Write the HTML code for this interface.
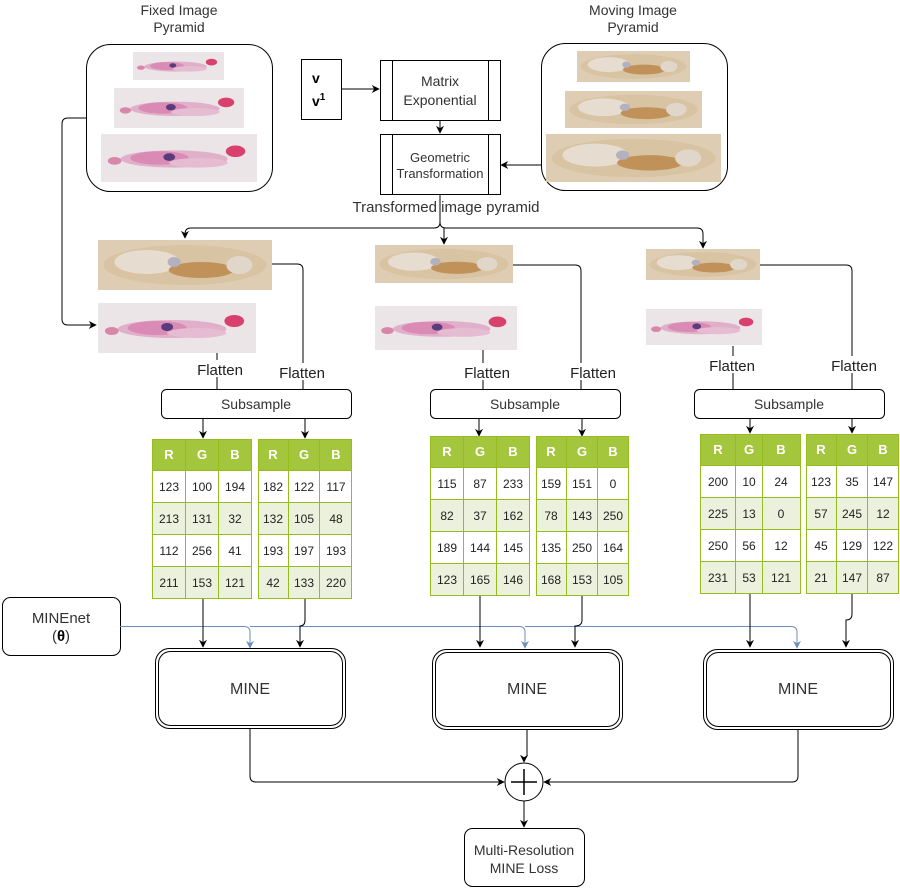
<!DOCTYPE html>
<html><head><meta charset="utf-8"><style>
html,body{margin:0;padding:0;background:#fff;}
svg{display:block;font-family:"Liberation Sans",Arial,sans-serif;}
</style></head><body>
<svg width="900" height="889" viewBox="0 0 900 889" xmlns="http://www.w3.org/2000/svg">
<defs>
<marker id="ar" viewBox="0 0 10 10" refX="9" refY="5" markerWidth="8" markerHeight="8" orient="auto" markerUnits="userSpaceOnUse"><path d="M0,0 L10,5 L0,10 L3,5 z" fill="#000"/></marker>
<marker id="ab" viewBox="0 0 10 10" refX="9" refY="5" markerWidth="8" markerHeight="8" orient="auto" markerUnits="userSpaceOnUse"><path d="M0,0 L10,5 L0,10 L3,5 z" fill="#6c8ebf"/></marker>
<symbol id="fx" viewBox="0 0 160 50" preserveAspectRatio="none">
<rect width="160" height="50" fill="#ece5e8"/>
<ellipse cx="75" cy="26" rx="55" ry="9" fill="#e0b0ca"/>
<ellipse cx="60" cy="25" rx="30" ry="7" fill="#d98ab5"/>
<ellipse cx="100" cy="30" rx="30" ry="5" fill="#e5bcd2"/>
<ellipse cx="14" cy="28" rx="7" ry="4" fill="#d887ab"/>
<ellipse cx="70" cy="24" rx="6" ry="4" fill="#5a3b7c"/>
<ellipse cx="138" cy="18" rx="10" ry="6" fill="#d8406e"/>
</symbol>
<symbol id="mv" viewBox="0 0 160 50" preserveAspectRatio="none">
<rect width="160" height="50" fill="#dfcdb3"/>
<ellipse cx="80" cy="25" rx="75" ry="20" fill="#d8c3a3"/>
<ellipse cx="45" cy="22" rx="30" ry="12" fill="#e6dccf"/>
<ellipse cx="95" cy="30" rx="30" ry="8" fill="#c0925a"/>
<ellipse cx="130" cy="25" rx="12" ry="9" fill="#e0d6c9"/>
<ellipse cx="70" cy="22" rx="6" ry="5" fill="#b3b0c0"/>
</symbol>
</defs>
<g font-size="14" fill="#333" text-anchor="middle">
<text x="179" y="15">Fixed Image</text><text x="179" y="32">Pyramid</text>
<text x="633" y="15">Moving Image</text><text x="633" y="32">Pyramid</text>
</g>
<rect x="86.5" y="44.5" width="186" height="147" rx="24" fill="#fff" stroke="#000"/>
<use href="#fx" x="133" y="52" width="91" height="28"/>
<use href="#fx" x="114" y="88" width="130" height="40"/>
<use href="#fx" x="101" y="134" width="156" height="48"/>
<rect x="541.5" y="43.5" width="186" height="147" rx="24" fill="#fff" stroke="#000"/>
<use href="#mv" x="577" y="51" width="113" height="31"/>
<use href="#mv" x="565" y="91" width="137" height="37"/>
<use href="#mv" x="546" y="134" width="175" height="48"/>
<rect x="301.5" y="59.5" width="40" height="60" fill="#fff" stroke="#000"/>
<text x="312" y="83" font-size="14" font-weight="bold">v</text>
<text x="312" y="106" font-size="14" font-weight="bold">v<tspan font-size="10" dy="-6">1</tspan></text>
<line x1="341" y1="89" x2="379" y2="89" stroke="#000" marker-end="url(#ar)"/>
<rect x="380.5" y="60.5" width="120" height="60" fill="#fff" stroke="#000"/>
<line x1="392.5" y1="60" x2="392.5" y2="121" stroke="#000"/><line x1="488.5" y1="60" x2="488.5" y2="121" stroke="#000"/>
<text x="440" y="86" font-size="14" fill="#333" text-anchor="middle">Matrix</text>
<text x="440" y="105" font-size="14" fill="#333" text-anchor="middle">Exponential</text>
<line x1="440" y1="121" x2="440" y2="133" stroke="#000" marker-end="url(#ar)"/>
<rect x="380.5" y="134.5" width="120" height="60" fill="#fff" stroke="#000"/>
<line x1="392.5" y1="134" x2="392.5" y2="195" stroke="#000"/><line x1="488.5" y1="134" x2="488.5" y2="195" stroke="#000"/>
<text x="440" y="162" font-size="13" fill="#333" text-anchor="middle">Geometric</text>
<text x="440" y="178" font-size="13" fill="#333" text-anchor="middle">Transformation</text>
<line x1="541" y1="165" x2="501" y2="165" stroke="#000" marker-end="url(#ar)"/>
<text x="446" y="212" font-size="15" fill="#333" text-anchor="middle">Transformed image pyramid</text>
<g fill="none" stroke="#000">
<path d="M440,195 V222 Q440,228 434,228 H191 Q185,228 185,234 V238" marker-end="url(#ar)"/>
<path d="M440,222 Q440,228 446,228 H697 Q703,228 703,234 V248" marker-end="url(#ar)"/>
<path d="M444,228 V244" marker-end="url(#ar)"/>
<path d="M86,118 H68 Q62,118 62,124 V319 Q62,325 68,325 H96" marker-end="url(#ar)"/>
</g>
<use href="#mv" x="98" y="240" width="174" height="50"/>
<use href="#fx" x="98" y="303" width="158" height="50"/>
<use href="#mv" x="375" y="245" width="138" height="38"/>
<use href="#fx" x="375" y="306" width="142" height="44"/>
<use href="#mv" x="646" y="249" width="114" height="31"/>
<use href="#fx" x="646" y="309" width="116" height="36"/>
<g fill="none" stroke="#000">
<path d="M272,264 H297 Q303,264 303,270 V389"/>
<path d="M217,353 V389"/>
<path d="M513,265 H575 Q581,265 581,271 V389"/>
<path d="M483,350 V389"/>
<path d="M760,265 H846 Q852,265 852,271 V389"/>
<path d="M733,346 V389"/>
</g>
<g font-size="15" fill="#222" text-anchor="middle">
<rect x="196" y="360" width="48" height="17" fill="#fff"/><text x="220" y="375">Flatten</text>
<rect x="278" y="363" width="50" height="17" fill="#fff"/><text x="302" y="378">Flatten</text>
<rect x="462" y="363" width="50" height="17" fill="#fff"/><text x="487" y="378">Flatten</text>
<rect x="568" y="363" width="50" height="17" fill="#fff"/><text x="593" y="378">Flatten</text>
<rect x="707" y="356" width="50" height="17" fill="#fff"/><text x="732" y="371">Flatten</text>
<rect x="829" y="356" width="50" height="17" fill="#fff"/><text x="854" y="371">Flatten</text>
</g>
<g fill="#fff" stroke="#000">
<rect x="161.5" y="389.5" width="190" height="29" rx="5"/>
<rect x="430.5" y="389.5" width="190" height="29" rx="5"/>
<rect x="694.5" y="389.5" width="190" height="29" rx="5"/>
</g>
<g font-size="14" fill="#333" text-anchor="middle">
<text x="256" y="409">Subsample</text><text x="525" y="409">Subsample</text><text x="789" y="409">Subsample</text>
</g>
<g stroke="#000" marker-end="url(#ar)">
<line x1="203" y1="419" x2="203" y2="438"/><line x1="305" y1="419" x2="305" y2="438"/>
<line x1="479" y1="419" x2="479" y2="436"/><line x1="582" y1="419" x2="582" y2="436"/>
<line x1="750" y1="419" x2="750" y2="433"/><line x1="852" y1="419" x2="852" y2="433"/>
</g>
<g font-size="12" text-anchor="middle" fill="#222">
<g transform="translate(152,439)">
<rect x="0.5" y="0.5" width="99" height="31" fill="#a4c63c" stroke="#94bd1e"/>
<rect x="0.5" y="31.5" width="99" height="32" fill="#fff" stroke="#94bd1e"/>
<rect x="0.5" y="63.5" width="99" height="32" fill="#ebf1dc" stroke="#94bd1e"/>
<rect x="0.5" y="95.5" width="99" height="32" fill="#fff" stroke="#94bd1e"/>
<rect x="0.5" y="127.5" width="99" height="32" fill="#ebf1dc" stroke="#94bd1e"/>
<line x1="33.5" y1="0" x2="33.5" y2="160" stroke="#94bd1e"/><line x1="66.5" y1="0" x2="66.5" y2="160" stroke="#94bd1e"/>
<g fill="#fff" font-weight="bold" font-size="13"><text x="17" y="20">R</text><text x="50" y="20">G</text><text x="83" y="20">B</text></g>
<text x="17" y="52">123</text><text x="50" y="52">100</text><text x="83" y="52">194</text>
<text x="17" y="84">213</text><text x="50" y="84">131</text><text x="83" y="84">32</text>
<text x="17" y="116">112</text><text x="50" y="116">256</text><text x="83" y="116">41</text>
<text x="17" y="148">211</text><text x="50" y="148">153</text><text x="83" y="148">121</text>
</g>
<g transform="translate(258,439)">
<rect x="0.5" y="0.5" width="93" height="31" fill="#a4c63c" stroke="#94bd1e"/>
<rect x="0.5" y="31.5" width="93" height="32" fill="#fff" stroke="#94bd1e"/>
<rect x="0.5" y="63.5" width="93" height="32" fill="#ebf1dc" stroke="#94bd1e"/>
<rect x="0.5" y="95.5" width="93" height="32" fill="#fff" stroke="#94bd1e"/>
<rect x="0.5" y="127.5" width="93" height="32" fill="#ebf1dc" stroke="#94bd1e"/>
<line x1="30.5" y1="0" x2="30.5" y2="160" stroke="#94bd1e"/><line x1="61.5" y1="0" x2="61.5" y2="160" stroke="#94bd1e"/>
<g fill="#fff" font-weight="bold" font-size="13"><text x="15" y="20">R</text><text x="46" y="20">G</text><text x="78" y="20">B</text></g>
<text x="15" y="52">182</text><text x="46" y="52">122</text><text x="78" y="52">117</text>
<text x="15" y="84">132</text><text x="46" y="84">105</text><text x="78" y="84">48</text>
<text x="15" y="116">193</text><text x="46" y="116">197</text><text x="78" y="116">193</text>
<text x="15" y="148">42</text><text x="46" y="148">133</text><text x="78" y="148">220</text>
</g>
<g transform="translate(430,436)">
<rect x="0.5" y="0.5" width="99" height="31" fill="#a4c63c" stroke="#94bd1e"/>
<rect x="0.5" y="31.5" width="99" height="32" fill="#fff" stroke="#94bd1e"/>
<rect x="0.5" y="63.5" width="99" height="32" fill="#ebf1dc" stroke="#94bd1e"/>
<rect x="0.5" y="95.5" width="99" height="32" fill="#fff" stroke="#94bd1e"/>
<rect x="0.5" y="127.5" width="99" height="32" fill="#ebf1dc" stroke="#94bd1e"/>
<line x1="33.5" y1="0" x2="33.5" y2="160" stroke="#94bd1e"/><line x1="66.5" y1="0" x2="66.5" y2="160" stroke="#94bd1e"/>
<g fill="#fff" font-weight="bold" font-size="13"><text x="17" y="20">R</text><text x="50" y="20">G</text><text x="83" y="20">B</text></g>
<text x="17" y="52">115</text><text x="50" y="52">87</text><text x="83" y="52">233</text>
<text x="17" y="84">82</text><text x="50" y="84">37</text><text x="83" y="84">162</text>
<text x="17" y="116">189</text><text x="50" y="116">144</text><text x="83" y="116">145</text>
<text x="17" y="148">123</text><text x="50" y="148">165</text><text x="83" y="148">146</text>
</g>
<g transform="translate(536,436)">
<rect x="0.5" y="0.5" width="92" height="31" fill="#a4c63c" stroke="#94bd1e"/>
<rect x="0.5" y="31.5" width="92" height="32" fill="#fff" stroke="#94bd1e"/>
<rect x="0.5" y="63.5" width="92" height="32" fill="#ebf1dc" stroke="#94bd1e"/>
<rect x="0.5" y="95.5" width="92" height="32" fill="#fff" stroke="#94bd1e"/>
<rect x="0.5" y="127.5" width="92" height="32" fill="#ebf1dc" stroke="#94bd1e"/>
<line x1="30.5" y1="0" x2="30.5" y2="160" stroke="#94bd1e"/><line x1="61.5" y1="0" x2="61.5" y2="160" stroke="#94bd1e"/>
<g fill="#fff" font-weight="bold" font-size="13"><text x="15" y="20">R</text><text x="46" y="20">G</text><text x="77" y="20">B</text></g>
<text x="15" y="52">159</text><text x="46" y="52">151</text><text x="77" y="52">0</text>
<text x="15" y="84">78</text><text x="46" y="84">143</text><text x="77" y="84">250</text>
<text x="15" y="116">135</text><text x="46" y="116">250</text><text x="77" y="116">164</text>
<text x="15" y="148">168</text><text x="46" y="148">153</text><text x="77" y="148">105</text>
</g>
<g transform="translate(700,434)">
<rect x="0.5" y="0.5" width="100" height="31" fill="#a4c63c" stroke="#94bd1e"/>
<rect x="0.5" y="31.5" width="100" height="32" fill="#fff" stroke="#94bd1e"/>
<rect x="0.5" y="63.5" width="100" height="32" fill="#ebf1dc" stroke="#94bd1e"/>
<rect x="0.5" y="95.5" width="100" height="32" fill="#fff" stroke="#94bd1e"/>
<rect x="0.5" y="127.5" width="100" height="32" fill="#ebf1dc" stroke="#94bd1e"/>
<line x1="35.5" y1="0" x2="35.5" y2="160" stroke="#94bd1e"/><line x1="62.5" y1="0" x2="62.5" y2="160" stroke="#94bd1e"/>
<g fill="#fff" font-weight="bold" font-size="13"><text x="18" y="20">R</text><text x="49" y="20">G</text><text x="81" y="20">B</text></g>
<text x="18" y="52">200</text><text x="49" y="52">10</text><text x="81" y="52">24</text>
<text x="18" y="84">225</text><text x="49" y="84">13</text><text x="81" y="84">0</text>
<text x="18" y="116">250</text><text x="49" y="116">56</text><text x="81" y="116">12</text>
<text x="18" y="148">231</text><text x="49" y="148">53</text><text x="81" y="148">121</text>
</g>
<g transform="translate(806,434)">
<rect x="0.5" y="0.5" width="92" height="31" fill="#a4c63c" stroke="#94bd1e"/>
<rect x="0.5" y="31.5" width="92" height="32" fill="#fff" stroke="#94bd1e"/>
<rect x="0.5" y="63.5" width="92" height="32" fill="#ebf1dc" stroke="#94bd1e"/>
<rect x="0.5" y="95.5" width="92" height="32" fill="#fff" stroke="#94bd1e"/>
<rect x="0.5" y="127.5" width="92" height="32" fill="#ebf1dc" stroke="#94bd1e"/>
<line x1="30.5" y1="0" x2="30.5" y2="160" stroke="#94bd1e"/><line x1="61.5" y1="0" x2="61.5" y2="160" stroke="#94bd1e"/>
<g fill="#fff" font-weight="bold" font-size="13"><text x="15" y="20">R</text><text x="46" y="20">G</text><text x="77" y="20">B</text></g>
<text x="15" y="52">123</text><text x="46" y="52">35</text><text x="77" y="52">147</text>
<text x="15" y="84">57</text><text x="46" y="84">245</text><text x="77" y="84">12</text>
<text x="15" y="116">45</text><text x="46" y="116">129</text><text x="77" y="116">122</text>
<text x="15" y="148">21</text><text x="46" y="148">147</text><text x="77" y="148">87</text>
</g>
</g>
<rect x="2.5" y="597.5" width="118" height="58" rx="8" fill="#fff" stroke="#000"/>
<text x="61" y="623" font-size="15" fill="#333" text-anchor="middle">MINEnet</text>
<text x="61" y="641" font-size="15" fill="#333" text-anchor="middle">(<tspan font-weight="bold" fill="#000">θ</tspan>)</text>
<path d="M120,626.5 H244 Q250,626.5 250,632 V647 M250,626.5 H519 Q525,626.5 525,632 V647 M525,626.5 H791 Q797,626.5 797,632 V647" fill="none" stroke="#6c8ebf"/>
<g stroke="#6c8ebf" marker-end="url(#ab)"><line x1="250" y1="640" x2="250" y2="648"/><line x1="525" y1="640" x2="525" y2="648"/><line x1="797" y1="640" x2="797" y2="648"/></g>
<g fill="none" stroke="#000">
<path d="M203,599 V647" marker-end="url(#ar)"/>
<path d="M305,599 V620 Q305,626 300,626 V647" marker-end="url(#ar)"/>
<path d="M480,596 V647" marker-end="url(#ar)"/>
<path d="M582,596 V620 Q582,626 575,626 V647" marker-end="url(#ar)"/>
<path d="M750,594 V647" marker-end="url(#ar)"/>
<path d="M852,594 V614 Q852,620 846,620 V647" marker-end="url(#ar)"/>
</g>
<g fill="#fff" stroke="#000">
<rect x="155.5" y="648.5" width="190" height="80" rx="14"/><rect x="158.5" y="651.5" width="184" height="74" rx="12"/>
<rect x="432.5" y="649.5" width="190" height="80" rx="14"/><rect x="435.5" y="652.5" width="184" height="74" rx="12"/>
<rect x="703.5" y="649.5" width="190" height="80" rx="14"/><rect x="706.5" y="652.5" width="184" height="74" rx="12"/>
</g>
<g font-size="16" fill="#333" text-anchor="middle">
<text x="250" y="694">MINE</text><text x="527" y="694">MINE</text><text x="798" y="694">MINE</text>
</g>
<g fill="none" stroke="#000">
<path d="M250,729 V776 Q250,782 256,782 H504" marker-end="url(#ar)"/>
<path d="M527,730 V755 Q527,758 524,758 V762" marker-end="url(#ar)"/>
<path d="M798,730 V776 Q798,782 792,782 H544" marker-end="url(#ar)"/>
<circle cx="524" cy="782" r="19" fill="#fff"/>
<path d="M511,782 H537 M524,769 V795" stroke-width="1.5"/>
<path d="M524,801 V827" marker-end="url(#ar)"/>
</g>
<rect x="464.5" y="828.5" width="120" height="58" rx="8" fill="#fff" stroke="#000"/>
<text x="524" y="855" font-size="14" fill="#333" text-anchor="middle">Multi-Resolution</text>
<text x="524" y="873" font-size="14" fill="#333" text-anchor="middle">MINE Loss</text>
</svg>
</body></html>
